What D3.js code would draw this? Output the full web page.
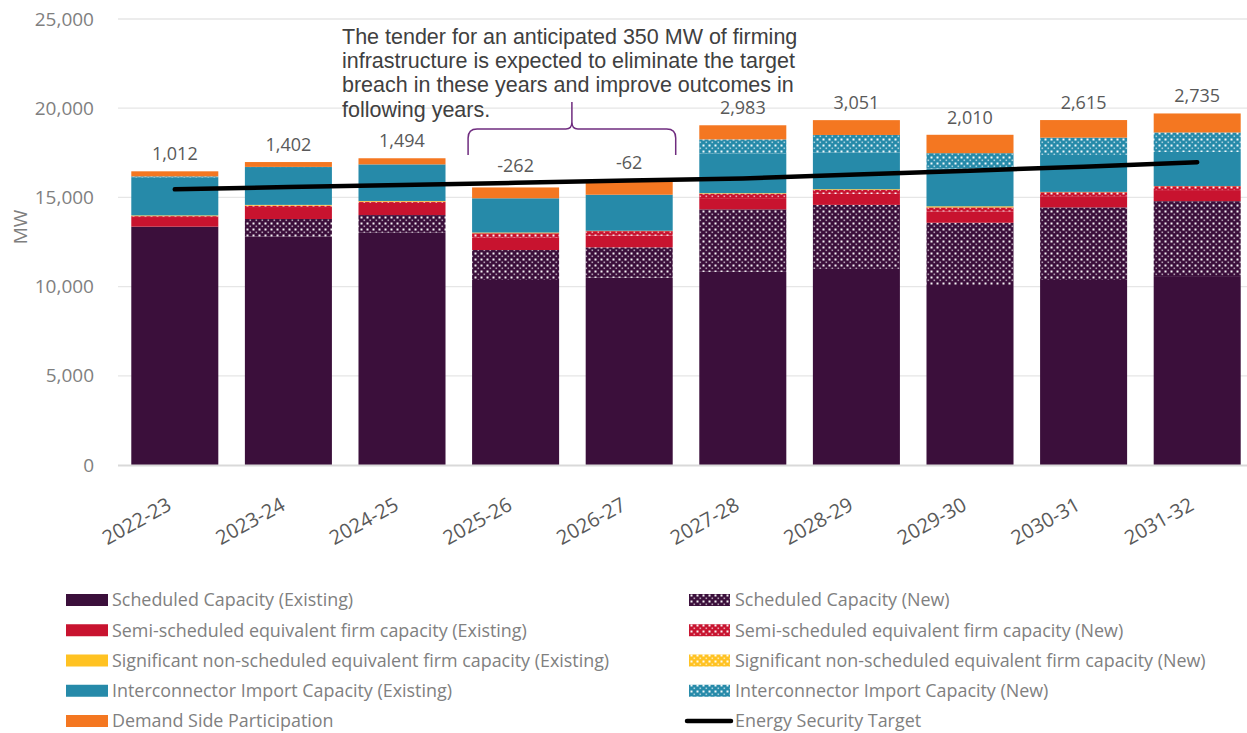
<!DOCTYPE html>
<html>
<head>
<meta charset="utf-8">
<script src="https://cdn.jsdelivr.net/npm/d3@7"></script>
<style>
  html, body { margin: 0; padding: 0; background: #fff; }
  svg { display: block; }
</style>
</head>
<body>
<svg id="chart" width="1247" height="733"></svg>
<script>
// Financial years on the x axis
const years = ["2022-23", "2023-24", "2024-25", "2025-26", "2026-27", "2027-28", "2028-29", "2029-30", "2030-31", "2031-32"];

// Capacity components (MW), stacked bottom to top
const schedExisting = [13360, 12800, 13020, 10370, 10500, 10830, 10990, 10090, 10370, 10590];
const schedNew      = [0, 990, 990, 1680, 1700, 3500, 3590, 3490, 4070, 4200];
const semiExisting  = [540, 670, 680, 690, 660, 630, 620, 640, 630, 620];
const semiNew       = [50, 80, 70, 250, 250, 250, 220, 220, 220, 220];
const sigExisting   = [40, 40, 40, 40, 20, 30, 40, 60, 20, 10];
const sigNew        = [0, 0, 0, 0, 0, 0, 0, 0, 0, 0];
const icExisting    = [2110, 2070, 2050, 1920, 2020, 2230, 2050, 2110, 2070, 1910];
const icNew         = [80, 60, 0, 0, 0, 780, 990, 870, 970, 1090];
const dsp           = [282, 272, 344, 608, 738, 793, 831, 1030, 985, 1065];

// Energy Security Target (MW) and surplus / shortfall against it (MW)
const target  = [15450, 15580, 15700, 15820, 15950, 16060, 16280, 16500, 16720, 16970];
const surplus = [1012, 1402, 1494, -262, -62, 2983, 3051, 2010, 2615, 2735];

const yTicks = [0, 5000, 10000, 15000, 20000, 25000];

const noteLines = [
  "The tender for an anticipated 350 MW of firming",
  "infrastructure is expected to eliminate the target",
  "breach in these years and improve outcomes in",
  "following years."
];

const COLORS = {
  sched: "#3b0f3b",
  semi: "#c8132f",
  sig: "#ffc222",
  ic: "#268aa9",
  dsp: "#f47721"
};

const series = [
  { key: "schedExisting", name: "Scheduled Capacity (Existing)", values: schedExisting, color: COLORS.sched, dotted: false },
  { key: "schedNew", name: "Scheduled Capacity (New)", values: schedNew, color: COLORS.sched, dotted: true },
  { key: "semiExisting", name: "Semi-scheduled equivalent firm capacity (Existing)", values: semiExisting, color: COLORS.semi, dotted: false },
  { key: "semiNew", name: "Semi-scheduled equivalent firm capacity (New)", values: semiNew, color: COLORS.semi, dotted: true },
  { key: "sigExisting", name: "Significant non-scheduled equivalent firm capacity (Existing)", values: sigExisting, color: COLORS.sig, dotted: false },
  { key: "sigNew", name: "Significant non-scheduled equivalent firm capacity (New)", values: sigNew, color: COLORS.sig, dotted: true },
  { key: "icExisting", name: "Interconnector Import Capacity (Existing)", values: icExisting, color: COLORS.ic, dotted: false },
  { key: "icNew", name: "Interconnector Import Capacity (New)", values: icNew, color: COLORS.ic, dotted: true },
  { key: "dsp", name: "Demand Side Participation", values: dsp, color: COLORS.dsp, dotted: false }
];

const rows = years.map((y, i) => {
  const r = { year: y };
  series.forEach(s => { r[s.key] = s.values[i]; });
  return r;
});

const svg = d3.select("#chart");
const FONT = "'Open Sans', 'Noto Sans', sans-serif";

// Dotted fills for the "New" components
const defs = svg.append("defs");
series.filter(s => s.dotted).forEach(s => {
  const p = defs.append("pattern")
    .attr("id", "pat-" + s.key)
    .attr("patternUnits", "userSpaceOnUse")
    .attr("width", 6).attr("height", 6);
  p.append("rect").attr("width", 6).attr("height", 6).attr("fill", s.color);
  p.append("rect").attr("x", 0.5).attr("y", 0.5).attr("width", 2).attr("height", 2).attr("fill", "#fff").attr("opacity", 0.95);
  p.append("rect").attr("x", 3.5).attr("y", 3.5).attr("width", 1.6).attr("height", 1.6).attr("fill", "#fff").attr("opacity", 0.6);
});
const fillOf = s => s.dotted ? `url(#pat-${s.key})` : s.color;

const x = d3.scaleBand().domain(years).range([118, 1254]).paddingInner(0.234).paddingOuter(0.117);
const y = d3.scaleLinear().domain([0, 25000]).range([465, 19]);

// Gridlines
svg.append("g")
  .selectAll("line")
  .data(yTicks.filter(t => t > 0))
  .join("line")
  .attr("x1", 118).attr("x2", 1247)
  .attr("y1", d => y(d)).attr("y2", d => y(d))
  .attr("stroke", "#e6e6e6").attr("stroke-width", 1.3);

// Y axis labels
const yAxis = svg.append("g")
  .attr("transform", "translate(118,0)")
  .call(d3.axisLeft(y).tickValues(yTicks).tickFormat(d3.format(",")).tickSize(0).tickPadding(24));
yAxis.select(".domain").remove();
yAxis.selectAll("text")
  .attr("fill", "#7f7f7f")
  .style("font-family", FONT)
  .style("font-size", "19px");

svg.append("text")
  .attr("transform", "translate(27,227) rotate(-90)")
  .attr("text-anchor", "middle")
  .attr("fill", "#7f7f7f")
  .style("font-family", FONT)
  .style("font-size", "19px")
  .text("MW");

// Stacked bars
const stack = d3.stack().keys(series.map(s => s.key));
const layers = stack(rows);
svg.append("g")
  .selectAll("g")
  .data(layers)
  .join("g")
  .attr("fill", (d, i) => fillOf(series[i]))
  .selectAll("rect")
  .data(d => d)
  .join("rect")
  .attr("x", d => x(d.data.year))
  .attr("width", x.bandwidth())
  .attr("y", d => y(d[1]))
  .attr("height", d => Math.max(0, y(d[0]) - y(d[1])));

// Category axis baseline and labels
const xAxis = svg.append("g")
  .attr("transform", "translate(0,465)")
  .call(d3.axisBottom(x).tickSize(0).tickPadding(0));
xAxis.select(".domain").remove();
svg.append("line")
  .attr("x1", 118).attr("x2", 1247)
  .attr("y1", 465.5).attr("y2", 465.5)
  .attr("stroke", "#d9d9d9").attr("stroke-width", 2);
xAxis.selectAll("text")
  .attr("fill", "#595959")
  .attr("text-anchor", "end")
  .attr("dy", 0)
  .attr("transform", "translate(-2,44) rotate(-29)")
  .style("font-family", FONT)
  .style("font-size", "20px");

// Energy Security Target line
const line = d3.line()
  .x((d, i) => x(years[i]) + x.bandwidth() / 2)
  .y(d => y(d));
svg.append("path")
  .datum(target)
  .attr("d", line)
  .attr("fill", "none")
  .attr("stroke", "#000")
  .attr("stroke-width", 4.5)
  .attr("stroke-linecap", "round");

// Surplus / shortfall labels
const totals = rows.map(r => d3.sum(series, s => r[s.key]));
const fmt = v => d3.format(",")(v).replace("\u2212", "-");
svg.append("g")
  .selectAll("text")
  .data(surplus)
  .join("text")
  .attr("x", (d, i) => x(years[i]) + x.bandwidth() / 2)
  .attr("y", (d, i) => y(Math.max(totals[i], target[i])) - 11)
  .attr("text-anchor", "middle")
  .attr("fill", "#595959")
  .style("font-family", FONT)
  .style("font-size", "18px")
  .text(d => fmt(d));

// Brace over the shortfall years with its note
const bl = x("2025-26") - 4, br = x("2026-27") + x.bandwidth() + 3;
const bm = (bl + br) / 2, bTop = 129, bTip = 102, bEnd = 155;
svg.append("path")
  .attr("d", `M${bl},${bEnd} L${bl},${bTop + 9} Q${bl},${bTop} ${bl + 9},${bTop} L${bm - 6},${bTop} Q${bm},${bTop} ${bm},${bTop - 7} L${bm},${bTip}`
    + ` M${bm},${bTop - 7} Q${bm},${bTop} ${bm + 6},${bTop} L${br - 9},${bTop} Q${br},${bTop} ${br},${bTop + 9} L${br},${bEnd}`)
  .attr("fill", "none")
  .attr("stroke", "#6f2c7f")
  .attr("stroke-width", 1.5);

svg.append("g")
  .selectAll("text")
  .data(noteLines)
  .join("text")
  .attr("x", 342)
  .attr("y", (d, i) => 43.5 + i * 24.4)
  .attr("fill", "#404040")
  .style("font-family", "'Liberation Sans', Arial, sans-serif")
  .style("font-size", "21.5px")
  .text(d => d);

// Legend
const legendLeft = series.filter(s => !s.dotted);
const legendRight = series.filter(s => s.dotted);
const rowY = i => 600 + i * 30.25;

const lg = svg.append("g").style("font-family", FONT).style("font-size", "17.9px");
legendLeft.forEach((s, i) => {
  lg.append("rect").attr("x", 66).attr("y", rowY(i) - 6).attr("width", 42).attr("height", 12).attr("fill", fillOf(s));
  lg.append("text").attr("x", 112).attr("y", rowY(i)).attr("dy", "0.35em").attr("fill", "#808080").text(s.name);
});
legendRight.forEach((s, i) => {
  lg.append("rect").attr("x", 689).attr("y", rowY(i) - 6).attr("width", 41).attr("height", 12).attr("fill", fillOf(s));
  lg.append("text").attr("x", 735).attr("y", rowY(i)).attr("dy", "0.35em").attr("fill", "#808080").text(s.name);
});
lg.append("line")
  .attr("x1", 687).attr("x2", 731)
  .attr("y1", rowY(4)).attr("y2", rowY(4))
  .attr("stroke", "#000").attr("stroke-width", 4.5).attr("stroke-linecap", "round");
lg.append("text").attr("x", 735).attr("y", rowY(4)).attr("dy", "0.35em").attr("fill", "#808080").text("Energy Security Target");
</script>
</body>
</html>
